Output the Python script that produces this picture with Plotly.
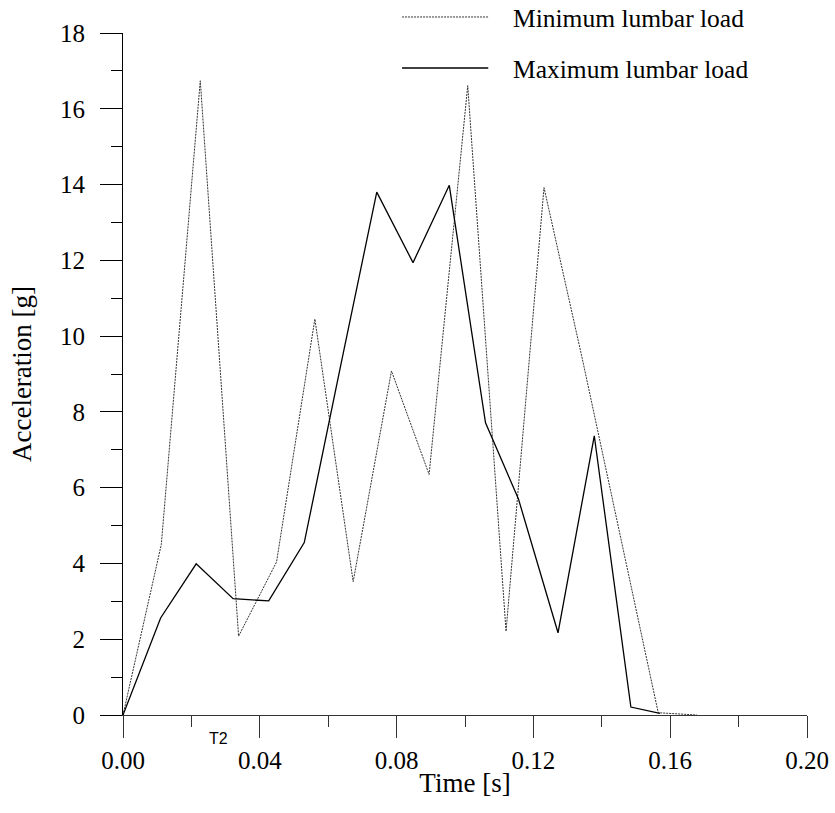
import plotly.graph_objects as go

# ---- data ----
series_names = ["Minimum lumbar load", "Maximum lumbar load"]

time_min = [0.0, 0.0112, 0.0226, 0.0338, 0.0449, 0.0561, 0.0673, 0.0785,
            0.0895, 0.1008, 0.1120, 0.1231, 0.1343, 0.1455, 0.1565, 0.1678]
accel_min = [0.0, 4.50, 16.74, 2.08, 4.04, 10.45, 3.52, 9.08,
             6.35, 16.61, 2.21, 13.92, 9.40, 4.70, 0.06, 0.0]

time_max = [0.0, 0.0110, 0.0214, 0.0322, 0.0426, 0.0530, 0.0636, 0.0742,
            0.0848, 0.0954, 0.1060, 0.1156, 0.1272, 0.1378, 0.1485, 0.1570]
accel_max = [0.0, 2.56, 3.99, 3.07, 3.01, 4.55, 9.20, 13.80,
             11.94, 13.98, 7.71, 5.71, 2.17, 7.37, 0.21, 0.04]

x_tick_vals = [0.0, 0.04, 0.08, 0.12, 0.16, 0.20]
x_tick_text = ["0.00", "0.04", "0.08", "0.12", "0.16", "0.20"]
y_tick_vals = [0, 2, 4, 6, 8, 10, 12, 14, 16, 18]
y_tick_text = ["0", "2", "4", "6", "8", "10", "12", "14", "16", "18"]

annotation_label = "T2"
annotation_x = 0.0278

SERIF = "Liberation Serif"
SANS = "Liberation Sans"

line_styles = [
    dict(color="#333333", width=1, dash="2px,1px"),
    dict(color="black", width=1.3),
]

fig = go.Figure()
fig.add_trace(go.Scatter(x=time_min, y=accel_min, mode="lines",
                         name=series_names[0], line=line_styles[0],
                         showlegend=False))
fig.add_trace(go.Scatter(x=time_max, y=accel_max, mode="lines",
                         name=series_names[1], line=line_styles[1],
                         showlegend=False))

# manual legend (long line samples like the reference)
legend_y = [1.0235, 0.9487]
for name, style, ly in zip(series_names, line_styles, legend_y):
    fig.add_shape(type="line", xref="paper", yref="paper",
                  x0=0.408, x1=0.534, y0=ly, y1=ly, line=style)
    fig.add_annotation(xref="paper", yref="paper", x=0.568, y=ly - 0.002,
                       text=name, showarrow=False, xanchor="left",
                       yanchor="middle", borderpad=0,
                       font=dict(family=SERIF, size=25.5, color="black"))

fig.add_annotation(xref="x", yref="paper", x=annotation_x, y=-0.035,
                   text=annotation_label, showarrow=False,
                   xanchor="center", yanchor="middle",
                   font=dict(family=SANS, size=16, color="black"))

axis_col = "#333333"
fig.update_xaxes(
    range=[0, 0.2], tickvals=x_tick_vals, ticktext=x_tick_text,
    ticks="outside", ticklen=22, tickwidth=1, tickcolor=axis_col,
    showline=True, linecolor=axis_col, linewidth=1,
    showgrid=False, zeroline=False,
    minor=dict(dtick=0.02, tick0=0, ticks="outside", ticklen=11,
               tickcolor=axis_col, tickwidth=1, showgrid=False),
    tickfont=dict(family=SERIF, size=25, color="black"),
    ticklabelstandoff=1,
    title=dict(text="Time [s]", font=dict(family=SERIF, size=27, color="black"),
               standoff=0),
)
fig.update_yaxes(
    range=[0, 18], tickvals=y_tick_vals, ticktext=y_tick_text,
    ticks="outside", ticklen=22, tickwidth=1, tickcolor="black",
    showline=True, linecolor="black", linewidth=1,
    showgrid=False, zeroline=False,
    minor=dict(dtick=1, tick0=0, ticks="outside", ticklen=11,
               tickcolor="black", tickwidth=1, showgrid=False),
    tickfont=dict(family=SERIF, size=25, color="black"),
    ticklabelstandoff=10,
    title=dict(text="Acceleration [g]", font=dict(family=SERIF, size=27, color="black"),
               standoff=20),
)

fig.update_layout(
    width=835, height=813,
    margin=dict(l=123, r=28, t=33, b=98, autoexpand=False),
    plot_bgcolor="white", paper_bgcolor="white",
    showlegend=False,
)

# remove the default 8px page margin so the figure fills the window exactly
fig.write_html("out.html",
               config={"displayModeBar": False},
               post_script="document.body.style.margin='0';"
                           "document.body.style.overflow='hidden';")
